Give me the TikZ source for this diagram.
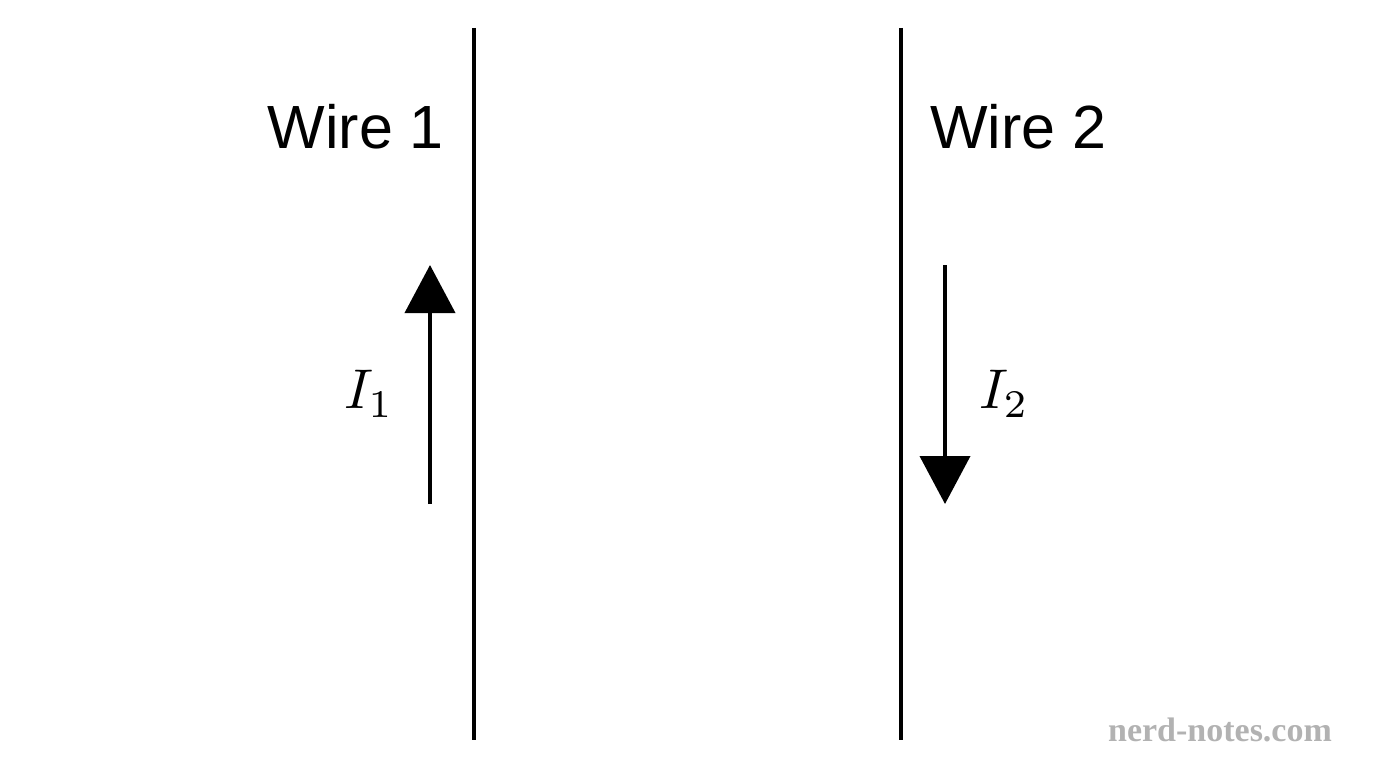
\documentclass[tikz,border=0pt]{standalone}
\usepackage{fontspec}
\setmainfont{Liberation Sans}
\newfontfamily\markfont{Liberation Serif}
\usetikzlibrary{arrows.meta}
\tikzset{
  wire/.style={line width=4pt},
  current/.style={line width=4pt,-{Triangle[length=48pt,width=50pt]}},
  wirelabel/.style={inner sep=0pt,font=\fontsize{61}{70}\selectfont},
  curlabel/.style={inner sep=0pt}
}
\newcommand{\curtext}[1]{\scalebox{5.6}{$#1$}}
\begin{document}
\begin{tikzpicture}[x=1pt,y=1pt,yscale=-1]
\useasboundingbox (0,0) rectangle (1376,768);

% Wires
\coordinate (w1top) at (474,28);
\coordinate (w1bot) at (474,740);
\coordinate (w2top) at (901,28);
\coordinate (w2bot) at (901,740);
\draw [wire] (w1top) -- (w1bot);
\draw [wire] (w2top) -- (w2bot);

% Currents
\coordinate (i1start) at (430,504);
\coordinate (i1end) at (430,265);
\coordinate (i2start) at (945,265);
\coordinate (i2end) at (945,504);
\draw [current] (i1start) -- (i1end);
\draw [current] (i2start) -- (i2end);

% Text Nodes
\node (lab1) [wirelabel,anchor=east] at (444,127) {Wire 1};
\node (lab2) [wirelabel,anchor=west] at (930,127) {Wire 2};
\node (cur1) [curlabel] at (369,394) {\curtext{I_1}};
\node (cur2) [curlabel] at (1004,394) {\curtext{I_2}};
\node (mark) [inner sep=0pt,text=black!30,font=\markfont\bfseries\fontsize{34}{40}\selectfont] at (1220,730) {nerd-notes.com};
\end{tikzpicture}
\end{document}
